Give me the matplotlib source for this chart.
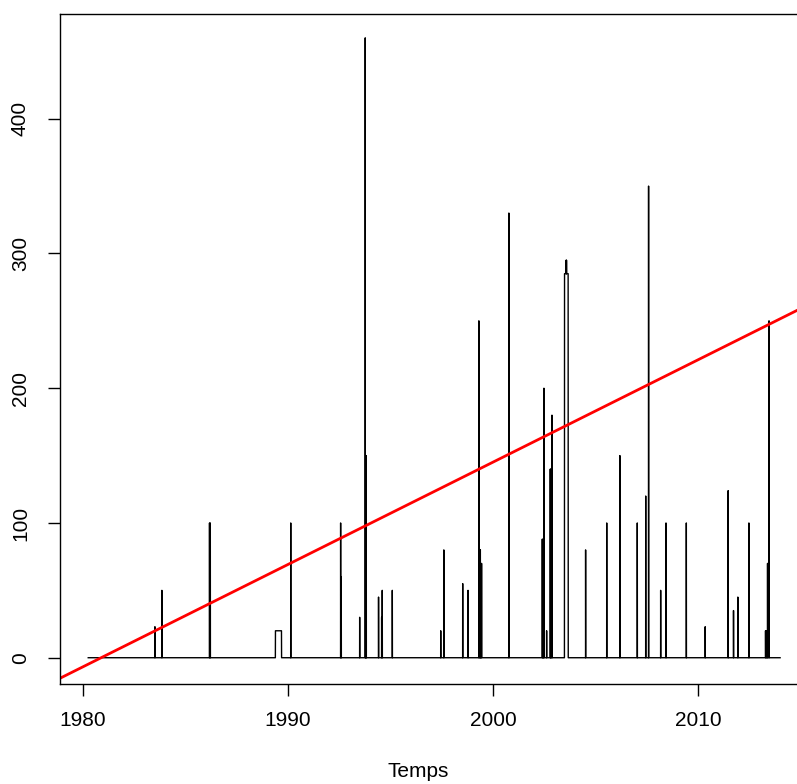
import numpy as np
import matplotlib
matplotlib.use("Agg")
import matplotlib.pyplot as plt

plt.rcParams['font.family'] = ['Liberation Sans', 'DejaVu Sans']

# series span (decimal years), daily observations, zero outside events
series_start = 1980.27
series_end = 2013.99

# single-day events: decimal year and value
event_years = [1983.52, 1983.86, 1986.18, 1986.22, 1990.14, 1992.57, 1992.60,
               1993.50, 1993.77, 1993.80, 1993.82, 1994.42, 1994.57, 1994.60,
               1995.09, 1997.45, 1997.60, 1998.52, 1998.78, 1999.31, 1999.36,
               1999.38, 1999.44, 2000.77, 2002.40, 2002.44, 2002.48, 2002.61,
               2002.79, 2002.82, 2002.87, 2003.56, 2003.58, 2004.51, 2005.54,
               2006.18, 2007.03, 2007.44, 2007.58, 2008.17, 2008.43, 2009.42,
               2010.34, 2011.46, 2011.72, 2011.93, 2012.47, 2013.28, 2013.32,
               2013.38, 2013.45]
event_values = [23, 50, 100, 100, 100, 100, 60,
                30, 460, 150, 150, 45, 30, 50,
                50, 20, 80, 55, 50, 250, 80,
                80, 70, 330, 88, 88, 200, 20,
                140, 140, 180, 295, 295, 80, 100,
                150, 100, 120, 350, 50, 100, 100,
                23, 124, 35, 45, 100, 20, 20,
                70, 250]

# longer episodes with a constant level
plateau_start = [1989.39, 2003.48]
plateau_end = [1989.69, 2003.66]
plateau_value = [20, 285]

# fitted trend line
trend_slope = 7.6
trend_zero_year = 1980.9

x_ticks = [1980, 1990, 2000, 2010]
y_ticks = [0, 100, 200, 300, 400]

# build the daily series
n_days = int(round((series_end - series_start) * 365.25)) + 1
t = series_start + np.arange(n_days) / 365.25
y = np.zeros(n_days)
for s, e, v in zip(plateau_start, plateau_end, plateau_value):
    y[(t >= s) & (t <= e)] = v
for yr, v in zip(event_years, event_values):
    i = int(round((yr - series_start) * 365.25))
    y[i] = max(y[i], v)

fig = plt.figure(figsize=(7.97, 7.84), dpi=100)
ax = fig.add_axes([60 / 797, 1 - 684 / 784, 748 / 797, 670 / 784])

ax.plot(t, y, color='black', lw=1.0)
ax.axline((trend_zero_year, 0), slope=trend_slope, color='#ff0000', lw=2.0)

ax.set_xlim(1978.894, 2015.35)
ax.set_ylim(-19.5, 477.7)

ax.set_xticks(x_ticks)
ax.set_yticks(y_ticks)
ax.set_yticklabels([str(v) for v in y_ticks], rotation=90, va='center')
ax.tick_params(direction='out', length=8.6, width=1.0, labelsize=15,
               colors='black')
ax.tick_params(axis='x', pad=11)
ax.tick_params(axis='y', pad=13)
for sp in ax.spines.values():
    sp.set_linewidth(1.0)

ax.set_xlabel('Temps', fontsize=15)
ax.xaxis.set_label_coords(0.479, -0.117)

fig.savefig('out.png', dpi=100)
